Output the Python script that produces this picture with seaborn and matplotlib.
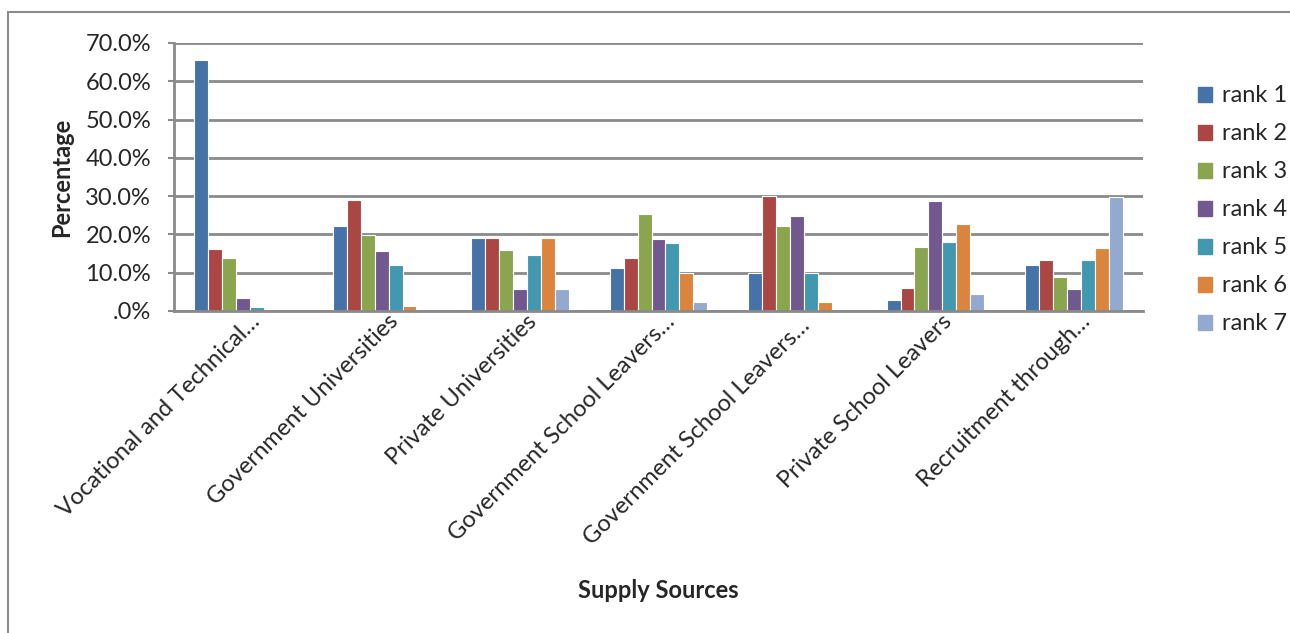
import matplotlib
matplotlib.use("Agg")
import matplotlib.pyplot as plt
import matplotlib.patches as mpatches
import matplotlib.transforms as mtrans
import seaborn as sns
import pandas as pd

categories = ["Vocational and Technical\u2026", "Government Universities", "Private Universities",
              "Government School Leavers\u2026", "Government School Leavers\u2026 ",
              "Private School Leavers", "Recruitment through\u2026"]
ranks = ["rank 1", "rank 2", "rank 3", "rank 4", "rank 5", "rank 6", "rank 7"]
rank1 = [65.6, 22.2, 19.0, 11.3, 10.0, 3.0, 11.9]
rank2 = [16.1, 28.9, 19.0, 13.9, 30.0, 6.1, 13.4]
rank3 = [13.8, 19.8, 16.0, 25.3, 22.3, 16.6, 8.8]
rank4 = [3.3, 15.8, 5.8, 18.8, 24.8, 28.8, 5.8]
rank5 = [1.0, 11.9, 14.6, 17.7, 10.0, 18.0, 13.4]
rank6 = [0.0, 1.4, 19.0, 10.0, 2.4, 22.8, 16.4]
rank7 = [0.0, 0.0, 5.8, 2.4, 0.0, 4.4, 29.8]
yticks = [0, 10, 20, 30, 40, 50, 60, 70]
ytick_labels = [".0%", "10.0%", "20.0%", "30.0%", "40.0%", "50.0%", "60.0%", "70.0%"]
colors = ["#4572A7", "#AA4643", "#89A54E", "#71588F", "#4198AF", "#DB843D", "#93A9CF"]

series = [rank1, rank2, rank3, rank4, rank5, rank6, rank7]
rows = []
for r, vals in zip(ranks, series):
    for c, v in zip(categories, vals):
        rows.append({"Category": c, "Rank": r, "Value": v})
df = pd.DataFrame(rows)

sns.set_theme(style="white")
plt.rcParams["font.family"] = ["Lato", "DejaVu Sans"]
FS = 17

fig = plt.figure(figsize=(12.9, 6.33), dpi=100)
ax = fig.add_axes([174/1290, 1-311/633, (1143-174)/1290, (311-43)/633])

# outer chart border
fig.patches.append(mpatches.Rectangle((8/1290, -0.05), 1.2, 1-12/633+0.05, transform=fig.transFigure,
                                      fill=False, edgecolor="#8c8c8c", linewidth=1.5, zorder=0))

sns.barplot(data=df, x="Category", y="Value", hue="Rank", order=categories, hue_order=ranks,
            palette=colors, width=0.705, ax=ax, saturation=1, linewidth=0.8, edgecolor="white")

ax.set_ylim(0, 70)
ax.set_xlim(-0.5, 6.5)
ax.set_yticks(yticks)
ax.set_yticklabels(ytick_labels, fontsize=FS)
ax.yaxis.grid(True, color="#8a8a8a", linewidth=2)
ax.set_axisbelow(True)
for s in ["top", "right"]:
    ax.spines[s].set_visible(False)
for s in ["left", "bottom"]:
    ax.spines[s].set_color("#8a8a8a")
    ax.spines[s].set_linewidth(2)
ax.tick_params(axis="y", left=True, length=4.5, width=1.5, color="#8a8a8a", pad=12)
ax.tick_params(axis="x", bottom=False, pad=4)
ax.set_xticks(range(len(categories)))
ax.set_xticklabels(categories, rotation=45, ha="right", rotation_mode="anchor", fontsize=FS)
offset = mtrans.ScaledTranslation(6/100, 14/100, fig.dpi_scale_trans)
for lbl in ax.get_xticklabels():
    lbl.set_transform(lbl.get_transform() + offset)

ax.set_xlabel("")
ax.set_ylabel("")
fig.text(658/1290, 1-591/633, "Supply Sources", ha="center", va="center", fontsize=FS, fontweight="bold")
fig.text(62/1290, 1-177/633, "Percentage", ha="center", va="center", rotation=90, fontsize=FS, fontweight="bold")

handles = [mpatches.Patch(color=c) for c in colors]
ax.legend(handles, ranks, loc="center left", bbox_to_anchor=(1198/1290, 1-210/633),
          bbox_transform=fig.transFigure, frameon=False, fontsize=FS, handlelength=0.6,
          handleheight=0.6, handletextpad=0.4, labelspacing=0.72, borderpad=0, borderaxespad=0)

fig.savefig("out.png", dpi=100)
